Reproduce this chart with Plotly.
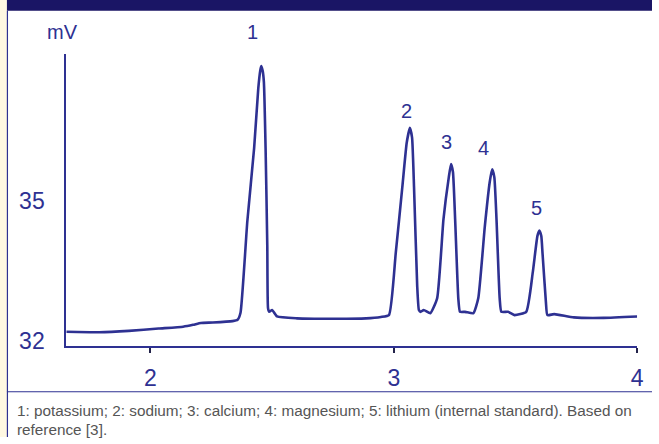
import plotly.graph_objects as go

# Ion chromatogram: retention time (min) vs detector signal (mV)
time_min = [1.654, 1.789, 1.911, 2.033, 2.134, 2.175, 2.207, 2.256, 2.337, 2.358,
            2.370, 2.398, 2.426, 2.443, 2.451, 2.455, 2.461, 2.466, 2.473, 2.480,
            2.483, 2.488, 2.500, 2.520, 2.602, 2.764, 2.886, 2.947, 2.980, 3.008,
            3.035, 3.053, 3.066, 3.075, 3.083, 3.096, 3.103, 3.110, 3.123, 3.150,
            3.178, 3.204, 3.226, 3.235, 3.243, 3.252, 3.265, 3.272, 3.293, 3.327,
            3.347, 3.374, 3.394, 3.404, 3.413, 3.422, 3.435, 3.442, 3.469, 3.496,
            3.544, 3.571, 3.590, 3.598, 3.606, 3.611, 3.625, 3.631, 3.659, 3.740,
            3.862, 4.000]
signal_mv = [32.19, 32.18, 32.21, 32.26, 32.30, 32.34, 32.38, 32.39, 32.42, 32.45,
             32.60, 34.57, 36.15, 37.43, 37.81, 37.91, 37.81, 37.57, 36.15, 34.04,
             32.70, 32.62, 32.66, 32.52, 32.48, 32.47, 32.48, 32.51, 32.55, 33.89,
             35.31, 36.26, 36.58, 36.37, 35.31, 33.19, 32.66, 32.62, 32.66, 32.59,
             32.91, 34.61, 35.52, 35.80, 35.63, 34.61, 32.91, 32.62, 32.62, 32.59,
             32.91, 34.46, 35.41, 35.69, 35.52, 34.61, 32.91, 32.62, 32.62, 32.55,
             32.62, 33.47, 34.25, 34.37, 34.25, 33.89, 32.83, 32.55, 32.57, 32.50,
             32.49, 32.52]

x_ticks = [2, 3, 4]
y_ticks = [32, 35]

peak_labels = ["1", "2", "3", "4", "5"]
peak_label_x = [2.419, 3.053, 3.216, 3.370, 3.588]
peak_label_y = [38.65, 36.95, 36.28, 36.15, 34.85]

caption_lines = [
    "1: potassium; 2: sodium; 3: calcium; 4: magnesium; 5: lithium (internal standard). Based on",
    "reference [3].",
]

W, H = 659, 444
BLUE = "#2E3192"
NAVY = "#1A1565"
CREAM = "#FFF8E2"
FONT = "Liberation Sans, Arial, Helvetica, sans-serif"

x_range = [1.654, 4.0]
y_range = [31.875, 38.167]
x_dom = [67 / W, 644 / W]
y_dom = [1 - 352 / H, 1 - 55 / H]

fig = go.Figure()
fig.add_trace(go.Scatter(
    x=time_min, y=signal_mv, mode="lines",
    line=dict(color=BLUE, width=2.6, shape="spline", smoothing=0.45),
    hoverinfo="skip", showlegend=False,
))


def paper_y(v):
    # data y -> paper y
    return y_dom[0] + (v - y_range[0]) / (y_range[1] - y_range[0]) * (y_dom[1] - y_dom[0])


annotations = []
for lab, lx, ly in zip(peak_labels, peak_label_x, peak_label_y):
    annotations.append(dict(
        x=lx, y=paper_y(ly), xref="x", yref="paper", text=lab, showarrow=False,
        font=dict(family=FONT, size=20, color=BLUE), xanchor="center", yanchor="middle",
    ))
annotations.append(dict(
    x=63 / W, y=1 - 33 / H, xref="paper", yref="paper", text="mV", showarrow=False,
    font=dict(family=FONT, size=20, color=BLUE), xanchor="center", yanchor="middle",
))
for i, line in enumerate(caption_lines):
    annotations.append(dict(
        x=15 / W, y=1 - (417 + 19 * i) / H, xref="paper", yref="paper", text=line,
        showarrow=False, font=dict(family=FONT, size=15.3, color="#555555"),
        xanchor="left", yanchor="middle",
    ))

shapes = [
    # cream side strip
    dict(type="rect", xref="paper", yref="paper", x0=0, x1=7 / W, y0=0, y1=1,
         fillcolor=CREAM, line=dict(width=0), layer="below"),
    # header bar
    dict(type="rect", xref="paper", yref="paper", x0=7 / W, x1=1, y0=1 - 11 / H, y1=1,
         fillcolor=NAVY, line=dict(width=0), layer="below"),
    # left frame line
    dict(type="line", xref="paper", yref="paper", x0=7.5 / W, x1=7.5 / W, y0=0, y1=1 - 11 / H,
         line=dict(color=BLUE, width=1.2)),
    # caption separator
    dict(type="line", xref="paper", yref="paper", x0=7 / W, x1=1, y0=1 - 398 / H, y1=1 - 398 / H,
         line=dict(color=BLUE, width=1.2)),
]

fig.update_layout(
    width=W, height=H, margin=dict(l=0, r=0, t=0, b=0),
    paper_bgcolor="white", plot_bgcolor="white",
    annotations=annotations, shapes=shapes,
    xaxis=dict(
        domain=x_dom, range=x_range, tickvals=x_ticks, ticktext=[str(t) for t in x_ticks],
        showgrid=False, zeroline=False, showline=True, linecolor=BLUE, linewidth=2,
        ticks="outside", ticklen=5, tickwidth=2, tickcolor="#23234a",
        tickfont=dict(family=FONT, size=23, color=BLUE), ticklabelstandoff=5,
    ),
    yaxis=dict(
        domain=y_dom, range=y_range, tickvals=y_ticks, ticktext=[str(t) for t in y_ticks],
        showgrid=False, zeroline=False, showline=True, linecolor=BLUE, linewidth=2,
        ticks="", tickfont=dict(family=FONT, size=23, color=BLUE), ticklabelstandoff=15,
    ),
)

fig.write_html("out.html")
